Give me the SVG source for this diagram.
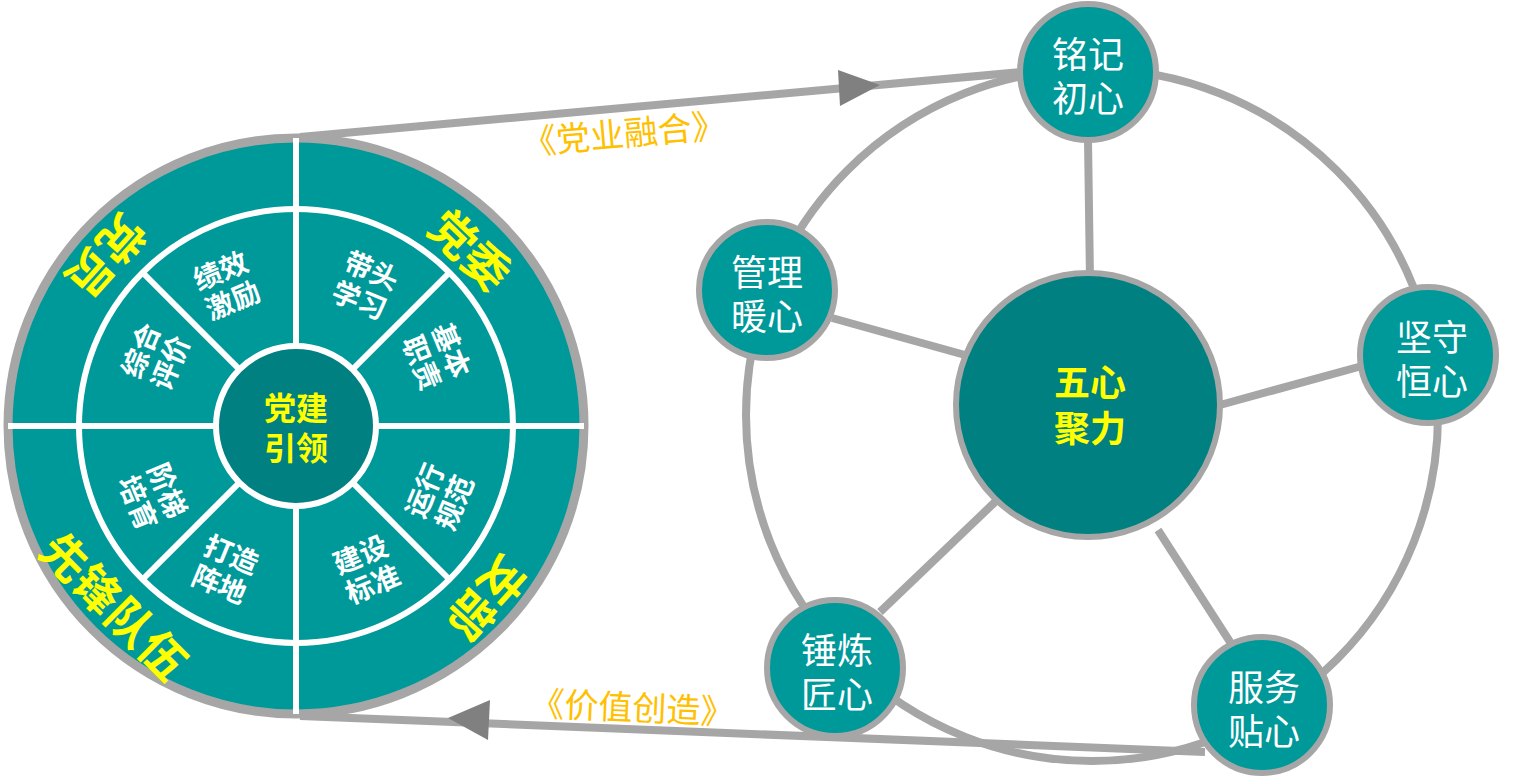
<svg xmlns="http://www.w3.org/2000/svg" width="1533" height="778" viewBox="0 0 1533 778">
<style>
.g{fill:none;stroke:#a6a6a6;stroke-width:8}
.w{stroke:#fff;stroke-width:6;fill:none}
.node{fill:#009999;stroke:#a6a6a6;stroke-width:6}
.nt{font-family:"Noto Sans CJK SC",sans-serif;font-size:36px;fill:#fff;text-anchor:middle}
.ct{font-family:"Noto Sans CJK SC",sans-serif;font-size:36px;font-weight:bold;fill:#ffff00;text-anchor:middle}
.ol{font-family:"Noto Sans CJK SC",sans-serif;font-size:46px;font-weight:bold;fill:#ffff00;text-anchor:middle;dominant-baseline:central}
.il{font-family:"Noto Sans CJK SC",sans-serif;font-size:28px;font-weight:bold;fill:#fff;text-anchor:middle}
.cl{font-family:"Noto Sans CJK SC",sans-serif;font-size:32px;font-weight:bold;fill:#ffff00;text-anchor:middle}
.lab{font-family:"Noto Sans CJK SC",sans-serif;font-size:34px;fill:#ffc000;text-anchor:middle}
</style>
<g id="connectors">
<line class="g" x1="300" y1="137" x2="1022" y2="72"/>
<path d="M838,70L880,85L840,106z" fill="#808080"/>
<line class="g" x1="1205" y1="752" x2="300" y2="716"/>
<path d="M490,700L448,718L488,740z" fill="#808080"/>
<circle cx="1092" cy="415" r="346" class="g" stroke-width="11"/>
<line class="g" x1="1090" y1="280" x2="1088" y2="140"/>
<line class="g" x1="965" y1="355" x2="832" y2="318"/>
<line class="g" x1="1220" y1="405" x2="1362" y2="366"/>
<line class="g" x1="995" y1="502" x2="880" y2="612"/>
<line class="g" x1="1158" y1="530" x2="1232" y2="645"/>
</g>
<g id="wheel">
<circle cx="296" cy="426" r="288" fill="#009999" stroke="#a6a6a6" stroke-width="9"/>
<circle cx="296" cy="426" r="217" class="w"/>
<line class="w" x1="8" y1="426" x2="584" y2="426"/>
<line class="w" x1="296" y1="138" x2="296" y2="714"/>
<line class="w" x1="143" y1="273" x2="449" y2="579"/>
<line class="w" x1="449" y1="273" x2="143" y2="579"/>
<circle cx="296" cy="426" r="80" fill="#008080" stroke="#fff" stroke-width="6"/>
<text class="cl" x="296" y="420">党建</text>
<text class="cl" x="296" y="460">引领</text>
<text class="ol" transform="translate(108,258) rotate(132)">党员</text>
<text class="ol" transform="translate(472,248) rotate(44)">党委</text>
<text class="ol" transform="translate(489,600) rotate(132)">支部</text>
<text class="ol" transform="translate(116,604) rotate(45)">先锋队伍</text>
<g transform="translate(226,284) rotate(-22.5)"><text class="il" y="-4">绩效</text><text class="il" y="28">激励</text></g>
<g transform="translate(366,284) rotate(22.5)"><text class="il" y="-4">带头</text><text class="il" y="28">学习</text></g>
<g transform="translate(438,356) rotate(67.5)"><text class="il" y="-4">基本</text><text class="il" y="28">职责</text></g>
<g transform="translate(438,496) rotate(-67.5)"><text class="il" y="-4">运行</text><text class="il" y="28">规范</text></g>
<g transform="translate(366,568) rotate(-22.5)"><text class="il" y="-4">建设</text><text class="il" y="28">标准</text></g>
<g transform="translate(226,568) rotate(22.5)"><text class="il" y="-4">打造</text><text class="il" y="28">阵地</text></g>
<g transform="translate(154,496) rotate(67.5)"><text class="il" y="-4">阶梯</text><text class="il" y="28">培育</text></g>
<g transform="translate(154,356) rotate(-67.5)"><text class="il" y="-4">综合</text><text class="il" y="28">评价</text></g>
</g>
<g id="labels">
<text class="lab" transform="translate(625,146) rotate(-5)">《党业融合》</text>
<text class="lab" transform="translate(632,720) rotate(2.5)">《价值创造》</text>
</g>
<g id="center"><circle cx="1088" cy="405" r="132" fill="#008080" stroke="#a6a6a6" stroke-width="6"/>
<text class="ct" x="1090" y="396">五心</text><text class="ct" x="1090" y="442">聚力</text></g>
<g id="n1"><circle class="node" cx="1088" cy="72" r="68"/><text class="nt" x="1088" y="68">铭记</text><text class="nt" x="1088" y="112">初心</text></g>
<g id="n2"><circle class="node" cx="767" cy="290" r="68"/><text class="nt" x="767" y="286">管理</text><text class="nt" x="767" y="330">暖心</text></g>
<g id="n3"><circle class="node" cx="1428" cy="355" r="68"/><text class="nt" x="1432" y="351">坚守</text><text class="nt" x="1432" y="395">恒心</text></g>
<g id="n4"><circle class="node" cx="835" cy="668" r="68"/><text class="nt" x="837" y="664">锤炼</text><text class="nt" x="837" y="708">匠心</text></g>
<g id="n5"><circle class="node" cx="1262" cy="705" r="68"/><text class="nt" x="1264" y="701">服务</text><text class="nt" x="1264" y="745">贴心</text></g>
</svg>
